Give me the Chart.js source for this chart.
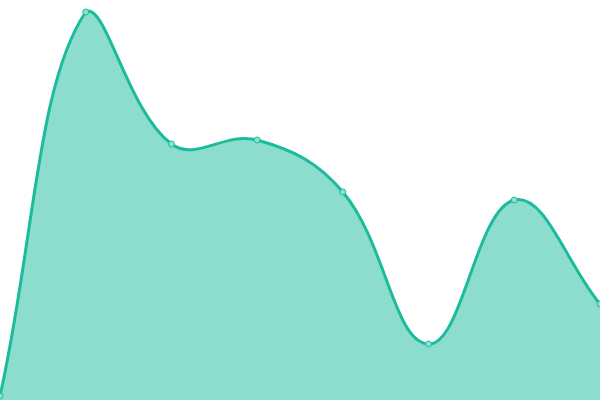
<!DOCTYPE html>
<html>
<head>
<meta charset="utf-8">
<script src="https://cdn.jsdelivr.net/npm/chart.js@4/dist/chart.umd.min.js"></script>
<style>
  html, body { margin: 0; padding: 0; background: #fff; }
  #wrap { width: 600px; height: 400px; }
</style>
</head>
<body>
<div id="wrap"><canvas id="areaChart"></canvas></div>
<script>
// data (skala 0-100)
const labels = ['1', '2', '3', '4', '5', '6', '7', '8'];
const values = [1, 97, 64, 65, 52, 14, 50, 24];
const yMin = 0;
const yMax = 100;

new Chart(document.getElementById('areaChart'), {
    type: 'line',
    data: {
        labels: labels,
        datasets: [{
            data: values,
            fill: 'origin',
            backgroundColor: 'rgba(26, 188, 156, 0.5)', // isi area
            borderColor: '#1abc9c',
            borderWidth: 3,
            tension: 0.4,
            pointRadius: 3,
            pointBackgroundColor: '#8be0cf',
            pointBorderColor: '#1abc9c',
            pointBorderWidth: 1
        }]
    },
    options: {
        responsive: true,
        maintainAspectRatio: false,
        animation: false,
        layout: { padding: 0, autoPadding: false }, // titik boleh terpotong di tepi
        plugins: {
            legend: { display: false },
            tooltip: { enabled: false }
        },
        scales: {
            x: { display: false, offset: false },
            y: { display: false, min: yMin, max: yMax }
        }
    }
});
</script>
</body>
</html>
